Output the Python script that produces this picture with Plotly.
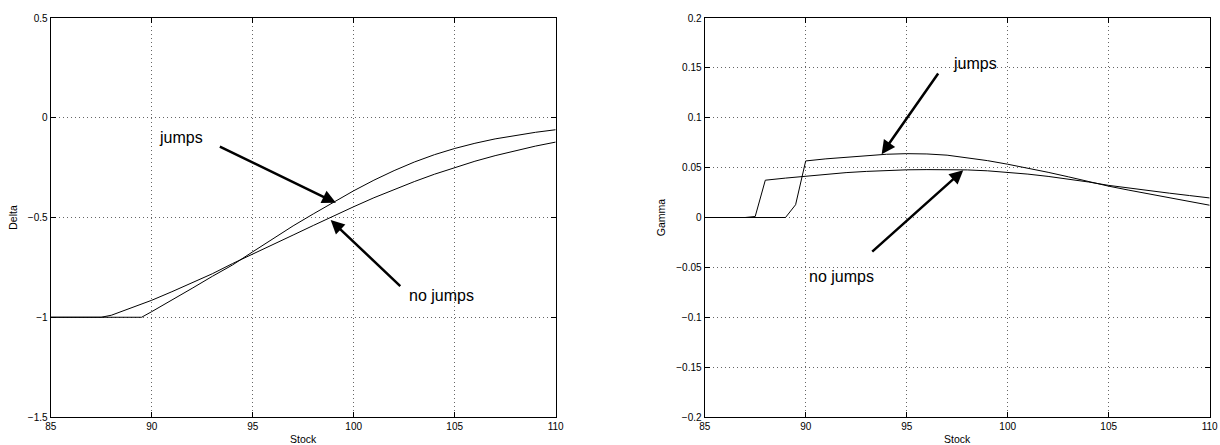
import plotly.graph_objects as go

# ---------------- data ----------------
stock = [85, 86, 87, 87.5, 88, 89, 89.5, 90, 91, 92, 93, 94, 95, 96, 97, 98, 99,
         100, 101, 102, 103, 104, 105, 106, 107, 108, 109, 110]

delta_no_jumps = [-1, -1, -1, -1, -0.99, -0.953, -0.934, -0.915, -0.872, -0.828, -0.782,
                  -0.731, -0.682, -0.636, -0.588, -0.54, -0.492, -0.446, -0.401, -0.359,
                  -0.32, -0.283, -0.249, -0.218, -0.19, -0.165, -0.142, -0.122]
delta_jumps = [-1, -1, -1, -1, -1, -1, -1, -0.972, -0.915, -0.855, -0.795, -0.738,
               -0.672, -0.605, -0.542, -0.482, -0.423, -0.366, -0.313, -0.265, -0.222,
               -0.185, -0.154, -0.128, -0.106, -0.088, -0.073, -0.06]

gamma_no_jumps = [0, 0, 0, 0.001, 0.0374, 0.0395, 0.0405, 0.0417, 0.0435, 0.045, 0.0462,
                  0.0472, 0.0478, 0.048, 0.048, 0.0477, 0.0468, 0.0455, 0.0435, 0.0412,
                  0.0386, 0.0356, 0.0322, 0.0294, 0.0268, 0.0244, 0.022, 0.0196]
gamma_jumps = [0, 0, 0, 0, 0, 0, 0.0128, 0.0567, 0.0588, 0.0605, 0.0622, 0.0634, 0.064,
               0.0637, 0.0625, 0.06, 0.057, 0.0534, 0.0495, 0.0453, 0.0408, 0.036, 0.0314,
               0.0274, 0.0235, 0.0198, 0.016, 0.0123]

x_ticks = [85, 90, 95, 100, 105, 110]
delta_ticks = [-1.5, -1, -0.5, 0, 0.5]
gamma_ticks = [-0.2, -0.15, -0.1, -0.05, 0, 0.05, 0.1, 0.15, 0.2]

# annotations: (label, text_x, text_y, tail_x, tail_y, tip_x, tip_y)
delta_notes = [("jumps", 91.43, -0.097, 93.30, -0.1405, 99.12, -0.4265),
               ("no jumps", 104.37, -0.89, 102.38, -0.851, 98.86, -0.513)]
gamma_notes = [("jumps", 98.38, 0.1543, 96.61, 0.1459, 93.76, 0.0634),
               ("no jumps", 91.75, -0.0588, 93.22, -0.0355, 97.80, 0.0474)]

FONT = "Liberation Sans, Arial, Helvetica, sans-serif"

fig = go.Figure()
line = dict(color="black", width=1)
fig.add_trace(go.Scatter(x=stock, y=delta_no_jumps, mode="lines", line=line, xaxis="x", yaxis="y"))
fig.add_trace(go.Scatter(x=stock, y=delta_jumps, mode="lines", line=line, xaxis="x", yaxis="y"))
fig.add_trace(go.Scatter(x=stock, y=gamma_no_jumps, mode="lines", line=line, xaxis="x2", yaxis="y2"))
fig.add_trace(go.Scatter(x=stock, y=gamma_jumps, mode="lines", line=line, xaxis="x2", yaxis="y2"))

axis_common = dict(
    showline=True, linecolor="black", linewidth=1.3, mirror="ticks",
    ticks="inside", ticklen=5, tickcolor="black", tickwidth=1,
    showgrid=True, gridcolor="#666", gridwidth=1, griddash="1px,3px",
    zeroline=False, tickfont=dict(family=FONT, size=10, color="black"),
    automargin=False,
)
title_font = dict(family=FONT, size=10.5, color="black")

ydom = [1 - 417 / 445, 1 - 18 / 445]
fig.update_layout(
    width=1220, height=445,
    margin=dict(l=0, r=0, t=0, b=0, autoexpand=False),
    paper_bgcolor="white", plot_bgcolor="white",
    showlegend=False,
    xaxis=dict(domain=[50.7 / 1220, 555.7 / 1220], range=[85, 110], tickvals=x_ticks,
               title=dict(text="Stock", font=title_font, standoff=4),
               anchor="y", **axis_common),
    yaxis=dict(domain=ydom, range=[-1.5, 0.5], tickvals=delta_ticks,
               title=dict(text="Delta", font=title_font, standoff=8),
               anchor="x", **axis_common),
    xaxis2=dict(domain=[704.7 / 1220, 1209.7 / 1220], range=[85, 110], tickvals=x_ticks,
                title=dict(text="Stock", font=title_font, standoff=4),
                anchor="y2", **axis_common),
    yaxis2=dict(domain=ydom, range=[-0.2, 0.2], tickvals=gamma_ticks,
                title=dict(text="Gamma", font=title_font, standoff=8),
                anchor="x2", **axis_common),
)

for notes, xr, yr in [(delta_notes, "x", "y"), (gamma_notes, "x2", "y2")]:
    for label, tx, ty, ax, ay, hx, hy in notes:
        fig.add_annotation(x=hx, y=hy, ax=ax, ay=ay, xref=xr, yref=yr, axref=xr, ayref=yr,
                           text="", showarrow=True, arrowhead=2, arrowsize=1.1,
                           arrowwidth=2.5, arrowcolor="black")
        fig.add_annotation(x=tx, y=ty, xref=xr, yref=yr, text=label, showarrow=False,
                           font=dict(family=FONT, size=16, color="black"),
                           xanchor="center", yanchor="middle")

fig.write_html("out.html", config={"displayModeBar": False},
               post_script="document.body.style.margin='0';document.body.style.overflow='hidden';")
